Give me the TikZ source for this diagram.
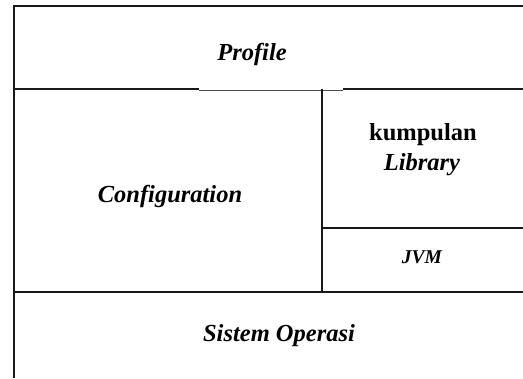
\documentclass[tikz,border=0pt]{standalone}
\usepackage{fontspec}
\setmainfont{Liberation Serif}
\begin{document}
\begin{tikzpicture}[x=1bp,y=-1bp,
  frame/.style={line width=1.6bp,draw=black!90},
  thinline/.style={line width=0.8bp,draw=black!70},
  lbl/.style={anchor=base,inner sep=0pt,font=\fontsize{24.5bp}{30bp}\selectfont\bfseries\itshape},
  small/.style={anchor=base,inner sep=0pt,font=\fontsize{19.5bp}{24bp}\selectfont\bfseries\itshape}]
\useasboundingbox (0,0) rectangle (523,378);
% named corner points
\coordinate (tl) at (14,6);
\coordinate (tr) at (523,6);
\coordinate (bl) at (14,378);
\coordinate (ml) at (14,89);
\coordinate (g1) at (199,89);
\coordinate (g2) at (343,89);
\coordinate (mr) at (523,89);
\coordinate (vt) at (322,89);
\coordinate (vb) at (322,292);
\coordinate (jl) at (322,228);
\coordinate (jr) at (523,228);
\coordinate (ll) at (14,292);
\coordinate (lr) at (523,292);
% frame lines
\draw[frame] (bl) -- (tl) -- (tr);
\draw[frame] (ml) -- (g1);
\draw[thinline] ([yshift=-1bp]g1) -- ([yshift=-1bp]g2);
\draw[frame] (g2) -- (mr);
\draw[frame] (vt) -- (vb);
\draw[frame] (jl) -- (jr);
\draw[frame] (ll) -- (lr);
% labels
\node[lbl] (profile) at (252,60) {Profile};
\node[lbl] (config) at (170,202) {Configuration};
\node[lbl,font=\fontsize{24.5bp}{30bp}\selectfont\bfseries] (kump) at (423,140) {kumpulan};
\node[lbl] (lib) at (422,170) {Library};
\node[small] (jvm) at (422,263) {JVM};
\node[lbl] (os) at (279,341) {Sistem Operasi};
\end{tikzpicture}
\end{document}
